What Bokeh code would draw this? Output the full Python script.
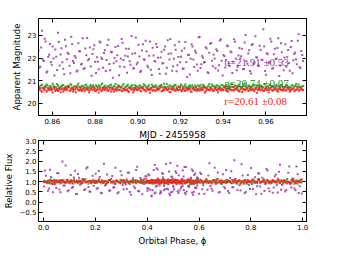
import numpy as np
from bokeh.plotting import figure
from bokeh.layouts import column
from bokeh.models import (Range1d, FixedTicker, LinearAxis, Label, Title,
                          CustomJSTickFormatter)
from bokeh.embed import file_html
from bokeh.resources import INLINE

# ---- data ----
mjd_start = 0.8535
mjd_end = 0.9770
period = 0.1035
phase_start = 0.40

# first set of visits
u_mag = [
22.34, 21.62, 23.21, 21.87, 22.73, 21.41, 22.15, 21.83, 22.52, 21.24,
22.06, 23.12, 21.68, 22.44, 21.53, 22.81, 21.95, 22.18, 21.33, 22.63,
21.79, 22.02, 21.46, 22.31, 21.72, 22.88, 21.57, 22.13, 21.91, 22.47,
21.22, 22.39, 21.84, 22.04, 21.51, 22.69, 21.96, 22.23, 21.43, 22.58,
21.74, 22.27, 21.14, 22.01, 21.86, 22.54, 21.63, 22.84, 21.92, 22.11,
21.36, 22.42, 21.71, 22.19, 21.55, 22.91, 21.81, 22.07, 21.44, 22.61,
21.93, 22.29, 21.59, 22.74, 21.26, 22.12, 21.85, 22.49, 21.52, 22.03,
21.76, 22.37, 21.31, 22.79, 21.94, 22.21, 21.64, 22.57, 21.42, 22.05,
21.82, 22.33, 21.54, 22.71, 21.17, 22.14, 21.97, 22.51, 21.61, 22.24,
21.45, 22.93, 21.73, 22.02, 21.83, 22.43, 21.34, 22.64, 21.89, 22.16,
21.56, 22.32, 21.69, 22.83, 21.23, 22.08, 21.92, 22.53, 21.65, 22.26,
21.84, 22.72, 21.47, 22.12, 21.98, 22.41, 21.52, 23.02, 21.75, 22.35,
21.32, 22.62, 21.81, 22.04, 21.66, 22.55, 21.93, 23.28, 21.43, 22.22,
21.77, 22.86, 21.54, 22.17, 21.96, 22.45, 21.21, 22.66, 21.85, 22.03,
21.62, 22.36, 21.44, 22.76, 21.91, 22.25, 21.73, 23.05, 21.55, 22.14]

g_mag = [
20.78, 20.71, 20.83, 20.69, 20.75, 20.80, 20.66, 20.74, 20.87, 20.72,
20.70, 20.79, 20.64, 20.76, 20.82, 20.73, 20.68, 20.77, 20.85, 20.71,
20.75, 20.67, 20.80, 20.74, 20.62, 20.78, 20.72, 20.84, 20.69, 20.76,
20.73, 20.81, 20.66, 20.75, 20.79, 20.70, 20.88, 20.74, 20.68, 20.77,
20.72, 20.83, 20.65, 20.76, 20.71, 20.80, 20.74, 20.67, 20.86, 20.73,
20.78, 20.70, 20.75, 20.82, 20.63, 20.77, 20.72, 20.79, 20.68, 20.74,
20.81, 20.71, 20.76, 20.66, 20.84, 20.73, 20.78, 20.69, 20.75, 20.80,
20.72, 20.87, 20.67, 20.74, 20.79, 20.70, 20.76, 20.83, 20.64, 20.75,
20.73, 20.78, 20.71, 20.85, 20.68, 20.77, 20.74, 20.80, 20.66, 20.72,
20.79, 20.75, 20.69, 20.82, 20.73, 20.61, 20.77, 20.71, 20.84, 20.76,
20.70, 20.78, 20.74, 20.67, 20.81, 20.73, 20.79, 20.68, 20.75, 20.86,
20.72, 20.77, 20.65, 20.80, 20.74, 20.71, 20.83, 20.76, 20.69, 20.78,
20.73, 20.75, 20.82, 20.66, 20.79, 20.72, 20.77, 20.70, 20.85, 20.74,
20.68, 20.80, 20.75, 20.71, 20.78, 20.63, 20.76, 20.82, 20.73, 20.69,
20.79, 20.74, 20.72, 20.81, 20.67, 20.77, 20.75, 20.84, 20.70, 20.76]

r_mag = [
20.58, 20.66, 20.52, 20.63, 20.71, 20.57, 20.61, 20.68, 20.49, 20.64,
20.60, 20.55, 20.69, 20.62, 20.53, 20.66, 20.59, 20.73, 20.56, 20.63,
20.61, 20.50, 20.65, 20.58, 20.70, 20.62, 20.54, 20.67, 20.60, 20.57,
20.64, 20.72, 20.55, 20.61, 20.48, 20.66, 20.59, 20.63, 20.69, 20.56,
20.62, 20.53, 20.67, 20.60, 20.58, 20.74, 20.61, 20.55, 20.65, 20.59,
20.63, 20.51, 20.68, 20.62, 20.57, 20.64, 20.60, 20.71, 20.54, 20.66,
20.61, 20.58, 20.63, 20.47, 20.69, 20.60, 20.56, 20.65, 20.62, 20.73,
20.55, 20.61, 20.67, 20.59, 20.52, 20.64, 20.62, 20.57, 20.70, 20.60,
20.63, 20.54, 20.66, 20.58, 20.61, 20.68, 20.53, 20.64, 20.59, 20.72,
20.60, 20.56, 20.65, 20.62, 20.49, 20.67, 20.61, 20.58, 20.63, 20.55,
20.69, 20.60, 20.64, 20.57, 20.62, 20.75, 20.59, 20.53, 20.66, 20.61,
20.58, 20.63, 20.70, 20.56, 20.62, 20.51, 20.65, 20.60, 20.67, 20.57,
20.61, 20.64, 20.54, 20.68, 20.59, 20.62, 20.71, 20.56, 20.63, 20.60,
20.48, 20.66, 20.58, 20.62, 20.69, 20.55, 20.64, 20.61, 20.57, 20.73,
20.60, 20.65, 20.52, 20.62, 20.67, 20.58, 20.63, 20.56, 20.70, 20.61]

# second set of visits (interleaved in time)
u_mag2 = [
21.58, 22.47, 21.93, 22.86, 21.37, 22.05, 22.62, 21.71, 21.99, 22.38,
21.48, 22.71, 22.16, 21.82, 21.29, 22.53, 22.24, 21.67, 22.95, 21.88,
22.09, 21.41, 22.66, 22.31, 21.75, 21.52, 22.43, 22.89, 21.96, 21.63,
22.18, 22.57, 21.35, 21.84, 22.74, 22.02, 21.58, 22.35, 21.92, 22.81,
21.47, 22.26, 21.78, 22.49, 22.13, 21.25, 21.99, 22.68, 21.61, 22.41,
22.07, 21.86, 22.98, 21.54, 22.22, 21.73, 22.59, 21.39, 22.34, 21.95,
22.77, 21.66, 22.11, 21.49, 22.46, 21.87, 22.63, 22.02, 21.31, 22.28,
21.79, 22.52, 21.58, 22.19, 22.85, 21.44, 21.97, 22.37, 21.69, 22.72,
22.06, 21.53, 22.44, 21.83, 22.15, 21.28, 22.61, 21.94, 22.33, 21.72,
22.92, 21.57, 22.09, 21.81, 22.48, 21.38, 22.24, 22.67, 21.64, 21.99,
22.39, 21.46, 22.78, 21.89, 22.14, 21.59, 22.56, 21.77, 22.29, 21.35,
22.83, 21.98, 21.62, 22.45, 22.08, 21.51, 22.69, 21.86, 22.21, 21.43,
22.58, 21.74, 22.97, 22.03, 21.66, 22.36, 21.92, 22.51, 21.27, 22.17,
21.84, 22.73, 21.56, 22.42, 21.99, 22.88, 21.68, 22.26, 21.47, 22.61,
22.04, 21.79, 22.49, 21.33, 22.18, 21.95, 22.77, 21.61, 22.32, 21.88]

g_mag2 = [
20.72, 20.80, 20.67, 20.76, 20.84, 20.70, 20.77, 20.64, 20.79, 20.73,
20.86, 20.69, 20.75, 20.81, 20.66, 20.74, 20.78, 20.71, 20.83, 20.68,
20.76, 20.73, 20.88, 20.70, 20.77, 20.65, 20.80, 20.74, 20.69, 20.82,
20.75, 20.71, 20.79, 20.63, 20.76, 20.84, 20.72, 20.78, 20.67, 20.74,
20.81, 20.70, 20.75, 20.86, 20.68, 20.77, 20.73, 20.79, 20.66, 20.74,
20.83, 20.71, 20.76, 20.69, 20.80, 20.74, 20.65, 20.78, 20.72, 20.85,
20.75, 20.70, 20.81, 20.67, 20.77, 20.73, 20.79, 20.62, 20.76, 20.82,
20.71, 20.74, 20.87, 20.69, 20.78, 20.72, 20.75, 20.80, 20.66, 20.73,
20.84, 20.70, 20.77, 20.74, 20.68, 20.81, 20.75, 20.71, 20.79, 20.64,
20.76, 20.83, 20.72, 20.78, 20.69, 20.74, 20.86, 20.70, 20.77, 20.73,
20.80, 20.67, 20.75, 20.82, 20.71, 20.76, 20.65, 20.79, 20.74, 20.84,
20.72, 20.77, 20.69, 20.81, 20.73, 20.75, 20.88, 20.70, 20.78, 20.66,
20.74, 20.82, 20.71, 20.76, 20.63, 20.79, 20.73, 20.85, 20.68, 20.75,
20.80, 20.72, 20.77, 20.67, 20.83, 20.74, 20.70, 20.78, 20.65, 20.76,
20.81, 20.73, 20.69, 20.79, 20.75, 20.86, 20.71, 20.74, 20.68, 20.77]

r_mag2 = [
20.63, 20.56, 20.69, 20.60, 20.52, 20.66, 20.62, 20.58, 20.72, 20.55,
20.64, 20.61, 20.50, 20.67, 20.59, 20.63, 20.70, 20.57, 20.65, 20.53,
20.61, 20.74, 20.58, 20.62, 20.55, 20.68, 20.60, 20.64, 20.49, 20.66,
20.59, 20.63, 20.56, 20.71, 20.61, 20.54, 20.67, 20.60, 20.65, 20.57,
20.69, 20.62, 20.52, 20.64, 20.58, 20.61, 20.73, 20.56, 20.63, 20.60,
20.55, 20.66, 20.62, 20.48, 20.68, 20.59, 20.64, 20.57, 20.70, 20.61,
20.53, 20.65, 20.60, 20.62, 20.56, 20.72, 20.58, 20.63, 20.67, 20.54,
20.61, 20.69, 20.59, 20.64, 20.51, 20.62, 20.66, 20.57, 20.60, 20.75,
20.58, 20.63, 20.55, 20.67, 20.61, 20.64, 20.52, 20.70, 20.60, 20.56,
20.65, 20.62, 20.59, 20.71, 20.54, 20.63, 20.61, 20.68, 20.57, 20.64,
20.60, 20.50, 20.66, 20.62, 20.58, 20.69, 20.55, 20.63, 20.61, 20.73,
20.57, 20.64, 20.60, 20.53, 20.67, 20.62, 20.59, 20.65, 20.56, 20.70,
20.61, 20.58, 20.64, 20.47, 20.68, 20.60, 20.63, 20.55, 20.66, 20.62,
20.59, 20.72, 20.57, 20.64, 20.61, 20.53, 20.67, 20.60, 20.63, 20.56,
20.69, 20.62, 20.58, 20.65, 20.54, 20.61, 20.71, 20.59, 20.64, 20.60]

band_names = ["u", "g", "r"]
band_means = [21.91, 20.74, 20.61]
band_errs = [0.53, 0.07, 0.08]

mag_ticks = [20, 21, 22, 23]
mjd_ticks = [0.86, 0.88, 0.90, 0.92, 0.94, 0.96]
flux_ticks = [-0.5, 0.0, 0.5, 1.0, 1.5, 2.0, 2.5, 3.0]
phase_ticks = [0.0, 0.2, 0.4, 0.6, 0.8, 1.0]

# ---- styling ----
point_colors = ["#a040b0", "#2ca02c", "#ff2020"]
text_colors = ["#8e3a9a", "#228b22", "#ff2020"]
TICK_FONT = "7px"
LABEL_FONT = "8.5px"
FONT = "DejaVu Sans"


def fmt(nd):
    return CustomJSTickFormatter(code=f"return tick.toFixed({nd}).replace('-', '\\u2212');")


def style(p):
    p.toolbar_location = None
    p.xgrid.visible = False
    p.ygrid.visible = False
    p.outline_line_color = "black"
    p.outline_line_width = 1
    p.background_fill_color = "white"
    p.border_fill_color = "white"
    for ax in p.axis:
        ax.major_tick_in = 4
        ax.major_tick_out = 0
        ax.minor_tick_line_color = None
        ax.axis_line_color = "black"
        ax.major_tick_line_color = "black"
        ax.major_label_text_font = FONT
        ax.major_label_text_font_size = TICK_FONT
        ax.major_label_text_color = "black"
        ax.major_label_standoff = 2
        ax.axis_label_text_font = FONT
        ax.axis_label_text_font_size = LABEL_FONT
        ax.axis_label_text_font_style = "normal"
        ax.axis_label_text_color = "black"
        ax.axis_label_standoff = 3


def add_mirror(p, xt, yt):
    top = LinearAxis(ticker=FixedTicker(ticks=xt))
    right = LinearAxis(ticker=FixedTicker(ticks=yt))
    for ax in (top, right):
        ax.major_label_text_font_size = "0px"
        ax.major_label_text_alpha = 0
        ax.major_label_standoff = 0
        ax.major_tick_in = 4
        ax.major_tick_out = 0
        ax.minor_tick_line_color = None
        ax.axis_line_color = "black"
        ax.major_tick_line_color = "black"
    p.add_layout(top, "above")
    p.add_layout(right, "right")


n = len(u_mag)
t1 = np.linspace(mjd_start, mjd_end, n)
step = (mjd_end - mjd_start) / (n - 1)
t2 = t1 + step / 2.0
t = np.concatenate([t1, t2])
phase = (phase_start + (t - mjd_start) / period) % 1.0
mags = [np.array(u_mag + u_mag2), np.array(g_mag + g_mag2),
        np.array(r_mag + r_mag2)]
fluxes = [10 ** (-0.4 * (m - mu)) for m, mu in zip(mags, band_means)]

# ---- top panel ----
p1 = figure(width=334, height=127, output_backend="svg", toolbar_location=None,
            x_range=Range1d(0.8535, 0.979), y_range=Range1d(19.47, 23.75),
            min_border_left=35, min_border_right=28, min_border_top=18,
            min_border_bottom=12)
p1.xaxis.ticker = FixedTicker(ticks=mjd_ticks)
p1.yaxis.ticker = FixedTicker(ticks=mag_ticks)
p1.xaxis.formatter = fmt(2)
p1.yaxis.formatter = fmt(0)
p1.yaxis.axis_label = "Apparent Magnitude"
style(p1)
add_mirror(p1, mjd_ticks, mag_ticks)
for m, c in zip(mags, point_colors):
    p1.scatter(t, m, marker="square", size=2, fill_color=c, line_color=None,
               fill_alpha=0.9)

label_pos = [(0.9405, 21.82), (0.9405, 20.91), (0.9405, 20.09)]
for name, mu, err, col, (lx, ly) in zip(band_names, band_means, band_errs,
                                        text_colors, label_pos):
    p1.add_layout(Label(x=lx, y=ly, text=f"{name}={mu:.2f} \u00b1{err:.2f}",
                        text_font="Liberation Serif", text_font_size="11px",
                        text_color=col, text_baseline="middle",
                        text_align="left"))

# ---- bottom panel ----
p2 = figure(width=334, height=121, output_backend="svg", toolbar_location=None,
            x_range=Range1d(-0.02, 1.015), y_range=Range1d(-0.95, 3.0),
            min_border_left=35, min_border_right=28, min_border_top=0,
            min_border_bottom=18)
p2.title = Title(text="MJD - 2455958", align="center", text_font=FONT,
                 text_font_size="9px", text_font_style="normal",
                 text_color="black", standoff=1, offset=0)
p2.xaxis.ticker = FixedTicker(ticks=phase_ticks)
p2.yaxis.ticker = FixedTicker(ticks=flux_ticks)
p2.xaxis.formatter = fmt(1)
p2.yaxis.formatter = fmt(1)
p2.xaxis.axis_label = "Orbital Phase, \u03d5"
p2.yaxis.axis_label = "Relative Flux"
style(p2)
add_mirror(p2, phase_ticks, flux_ticks)
p2.xaxis[0].axis_label_standoff = 0
for f, c in zip(fluxes, point_colors):
    p2.scatter(phase, f, marker="square", size=2, fill_color=c, line_color=None,
               fill_alpha=0.9)

layout = column(p1, p2, spacing=0)
open("out.html", "w").write(file_html(layout, INLINE))
